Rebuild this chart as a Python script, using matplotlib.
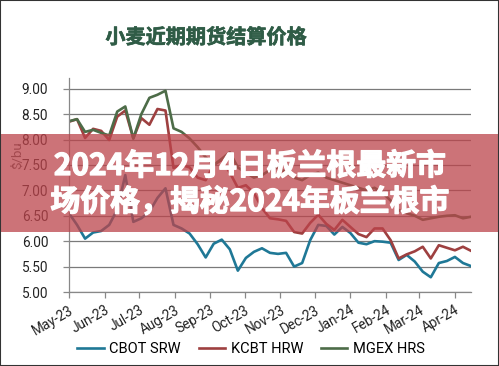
import matplotlib
matplotlib.use("Agg")
import matplotlib.pyplot as plt
import matplotlib.dates as mdates
import matplotlib.patheffects as pe
from matplotlib.patches import Rectangle
import pandas as pd

dates = pd.date_range("2023-05-01", periods=51, freq="7D")

cbot_srw = [6.55, 6.32, 6.05, 6.17, 6.20, 6.32, 6.62, 7.30, 6.38, 6.45,
            6.58, 6.85, 7.04, 6.32, 6.25, 6.15, 5.94, 5.68, 5.95, 6.03,
            5.84, 5.42, 5.67, 5.79, 5.86, 5.77, 5.75, 5.77, 5.50, 5.57,
            6.02, 6.32, 6.30, 6.13, 6.28, 6.16, 5.97, 5.94, 6.00, 5.99,
            5.97, 5.63, 5.73, 5.60, 5.40, 5.29, 5.57, 5.61, 5.69, 5.57, 5.51]
kcbt_hrw = [8.35, 8.40, 8.03, 8.21, 8.17, 7.99, 8.45, 8.57, 8.02, 8.42,
            8.29, 8.60, 8.57, 7.44, 7.50, 7.45, 7.25, 7.20, 7.50, 7.60,
            7.35, 7.05, 7.10, 6.95, 6.65, 6.45, 6.43, 6.40, 6.18, 6.15,
            6.36, 6.52, 6.34, 6.22, 6.42, 6.28, 6.14, 6.08, 6.25, 6.25,
            6.02, 5.66, 5.74, 5.80, 5.89, 5.66, 5.92, 5.87, 5.82, 5.89, 5.81]
mgex_hrs = [8.36, 8.40, 8.15, 8.19, 8.13, 8.08, 8.55, 8.65, 8.02, 8.50,
            8.82, 8.88, 8.96, 8.22, 8.15, 8.02, 7.85, 7.65, 7.50, 7.62,
            7.75, 7.45, 7.35, 7.25, 7.30, 7.40, 7.45, 7.35, 7.25, 7.20,
            7.30, 7.35, 7.25, 7.20, 7.15, 7.10, 7.05, 7.00, 7.05, 6.95,
            6.80, 6.61, 6.55, 6.50, 6.42, 6.45, 6.48, 6.50, 6.51, 6.45, 6.48]

series_names = ["CBOT SRW", "KCBT HRW", "MGEX HRS"]
y_ticks = [5.0, 5.5, 6.0, 6.5, 7.0, 7.5, 8.0, 8.5, 9.0]
title = "小麦近期期货结算价格"
banner_line1 = "2024年12月4日板兰根最新市"
banner_line2 = "场价格，揭秘2024年板兰根市"

colors = ["#1f7896", "#9e4040", "#4d6c48"]

W, H = 499, 366
fig = plt.figure(figsize=(W / 100, H / 100), dpi=100)
fig.patch.set_facecolor("white")

ax = fig.add_axes([69 / W, 1 - 292 / H, (471 - 69) / W, (292 - 78) / H])
for vals, c, name in zip([cbot_srw, kcbt_hrw, mgex_hrs], colors, series_names):
    ax.plot(dates, vals, color=c, lw=1.9, label=name, solid_joinstyle="round")

ax.set_ylim(5.0, 9.21)
ax.set_xlim(dates[0], dates[-1])
ax.set_yticks(y_ticks)
ax.set_yticklabels([f"{v:.2f}" for v in y_ticks], family="Roboto", fontsize=9.8, color="#222222")
ax.yaxis.grid(True, color="#7a7a7a", lw=0.9)
ax.set_axisbelow(True)
ax.xaxis.set_major_locator(mdates.MonthLocator())
ax.xaxis.set_major_formatter(mdates.DateFormatter("%b-%y"))
for lab in ax.get_xticklabels():
    lab.set_family("Roboto")
    lab.set_fontsize(9.8)
    lab.set_rotation(30)
    lab.set_ha("right")
    lab.set_rotation_mode("anchor")
    lab.set_color("#222222")
ax.tick_params(axis="both", length=4, color="#888888", width=0.9)
ax.tick_params(axis="y", pad=11)
ax.tick_params(axis="x", pad=4)
for s in ["top", "right"]:
    ax.spines[s].set_visible(False)
for s in ["left", "bottom"]:
    ax.spines[s].set_color("#888888")
    ax.spines[s].set_linewidth(0.9)

fig.text(18 / W, 1 - 155 / H, r"\$/bu", rotation=90, ha="center", va="center",
         family="Roboto", fontsize=9.5, color="#555555")

fig.text(206 / W, 1 - 37 / H, title, ha="center", va="center",
         family=["Noto Sans CJK SC", "DejaVu Sans"], fontsize=14.5,
         fontweight="bold", color="#2f5c46",
         path_effects=[pe.withStroke(linewidth=0.45, foreground="#2f5c46")])

fig.legend(loc="center", bbox_to_anchor=(251 / W, 1 - 349 / H), ncol=3,
           frameon=False, prop={"family": "Roboto", "size": 10.5},
           handlelength=1.8, columnspacing=1.2, handletextpad=0.4)

banner = Rectangle((0, 1 - 232 / H), 1, 98 / H, transform=fig.transFigure,
                   facecolor=(188 / 255, 68 / 255, 75 / 255), alpha=0.75,
                   edgecolor="none", zorder=5)
fig.add_artist(banner)
for txt, yc in [(banner_line1, 166), (banner_line2, 202)]:
    fig.text(250 / W, 1 - yc / H, txt, ha="center", va="center",
             family=["Noto Sans CJK SC", "DejaVu Sans"], fontsize=21.5,
             fontweight="bold", color="white", zorder=6,
             path_effects=[pe.withStroke(linewidth=0.9, foreground="white")])

border = Rectangle((0, 0), 1, 1, transform=fig.transFigure, fill=False,
                   edgecolor="#333333", lw=1.5, zorder=10)
fig.add_artist(border)

fig.savefig("out.png", dpi=100)
